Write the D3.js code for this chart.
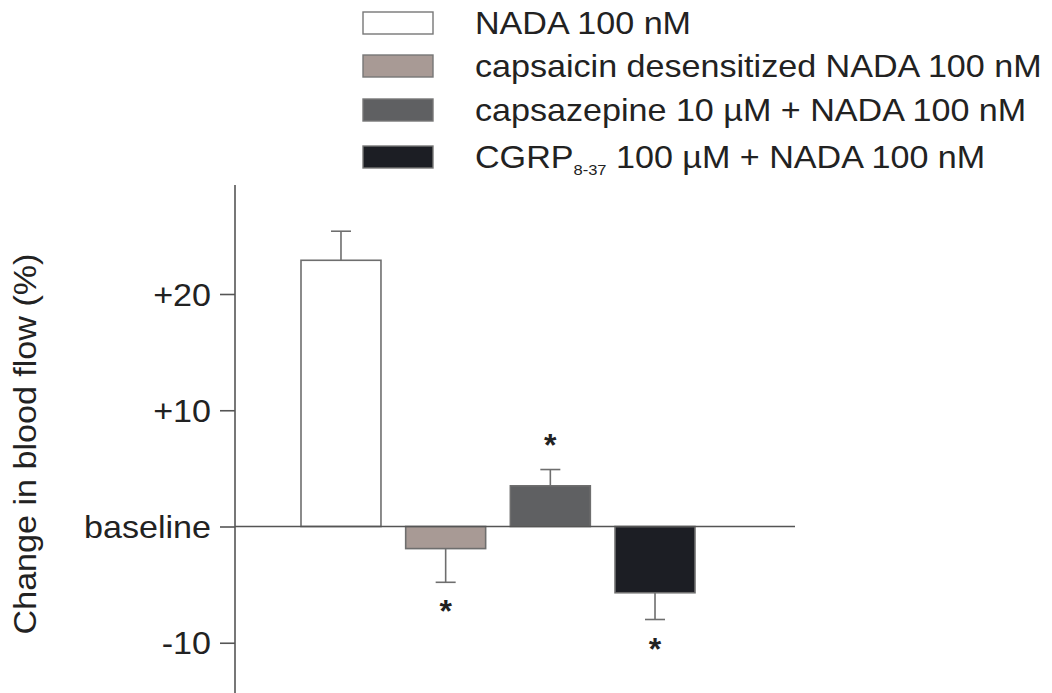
<!DOCTYPE html>
<meta charset="utf-8">
<html>

<head>
  <title>Change in blood flow</title>
  <script src="https://d3js.org/d3.v7.min.js"></script>
  <style>
    body { margin: 0; background: #fff; }
    text { font-family: "Liberation Sans", Arial, sans-serif; fill: #222; }
  </style>
</head>

<body>
  <div id="my_dataviz"></div>
</body>
<script type="text/javascript">

  // data
  var groups = ["NADA 100 nM", "capsaicin desensitized NADA 100 nM", "capsazepine 10 µM + NADA 100 nM", "CGRP 100 µM + NADA 100 nM"];
  var means = [22.9, -1.9, 3.5, -5.7];
  var errors = [2.5, 2.9, 1.4, 2.3];
  var significant = [false, true, true, true];
  var colors = ["#ffffff", "#a89a95", "#5f6062", "#1c1e24"];
  var tickValues = [20, 10, 0, -10];
  var tickLabels = ["+20", "+10", "baseline", "-10"];

  var W = 1052, H = 693;
  var stretch = 1.10; // the figure's lettering is a bit wider than Arial

  var svg = d3.select("#my_dataviz")
    .append("svg")
    .attr("width", W)
    .attr("height", H);

  var x = d3.scaleBand()
    .domain(groups)
    .range([301, 695])
    .paddingInner(0.236);

  var y = d3.scaleLinear()
    .domain([0, 20])
    .range([526.5, 294]);

  var axisX = 235;

  // y axis
  var yAxis = svg.append("g")
    .attr("transform", "translate(" + axisX + ",0)")
    .call(d3.axisLeft(y)
      .tickValues(tickValues)
      .tickSize(15)
      .tickPadding(9)
      .tickFormat(function (d, i) { return tickLabels[i]; }));
  yAxis.select(".domain").remove();
  yAxis.selectAll(".tick line")
    .attr("stroke", "#555")
    .attr("stroke-width", 1.6);
  yAxis.selectAll(".tick text")
    .attr("x", null)
    .attr("dy", null)
    .attr("transform", "translate(-24,11) scale(" + stretch + ",1)")
    .style("font-size", "31px")
    .style("font-family", "'Liberation Sans', Arial, sans-serif")
    .attr("fill", "#222");

  svg.append("line")
    .attr("x1", axisX).attr("x2", axisX)
    .attr("y1", 185).attr("y2", H)
    .attr("stroke", "#555")
    .attr("stroke-width", 1.6);

  // y label
  svg.append("text")
    .attr("transform", "translate(36," + 444 + ") rotate(-90) scale(" + stretch + ",1)")
    .attr("text-anchor", "middle")
    .style("font-size", "31px")
    .text("Change in blood flow (%)");

  // bars
  svg.selectAll("rect.bar")
    .data(means)
    .enter()
    .append("rect")
    .attr("class", "bar")
    .attr("x", function (d, i) { return x(groups[i]); })
    .attr("y", function (d) { return Math.min(y(d), y(0)); })
    .attr("width", x.bandwidth())
    .attr("height", function (d) { return Math.abs(y(d) - y(0)); })
    .attr("fill", function (d, i) { return colors[i]; })
    .attr("stroke", "#6e6e6e")
    .attr("stroke-width", 1.6);

  // baseline
  svg.append("line")
    .attr("x1", axisX).attr("x2", 795)
    .attr("y1", y(0)).attr("y2", y(0))
    .attr("stroke", "#555")
    .attr("stroke-width", 1.6);

  // one-sided error bars
  var errG = svg.append("g")
    .attr("stroke", "#6e6e6e")
    .attr("stroke-width", 1.6);
  means.forEach(function (m, i) {
    var cx = x(groups[i]) + x.bandwidth() / 2;
    var tip = m >= 0 ? m + errors[i] : m - errors[i];
    errG.append("line")
      .attr("x1", cx).attr("x2", cx)
      .attr("y1", y(m)).attr("y2", y(tip));
    errG.append("line")
      .attr("x1", cx - 10).attr("x2", cx + 10)
      .attr("y1", y(tip)).attr("y2", y(tip));

    if (significant[i]) {
      var cy = m >= 0 ? y(tip) - 32 : y(tip) + 22;
      svg.append("text")
        .attr("x", cx)
        .attr("y", cy + 18)
        .attr("text-anchor", "middle")
        .style("font-size", "32px")
        .style("font-weight", "bold")
        .text("*");
    }
  });

  // legend
  var legendY = [23, 66, 110, 157];
  var legend = svg.selectAll("g.legend")
    .data(groups)
    .enter()
    .append("g")
    .attr("class", "legend")
    .attr("transform", function (d, i) { return "translate(0," + legendY[i] + ")"; });

  legend.append("rect")
    .attr("x", 363)
    .attr("y", -11)
    .attr("width", 70)
    .attr("height", 22)
    .attr("fill", function (d, i) { return colors[i]; })
    .attr("stroke", "#777")
    .attr("stroke-width", 1.4);

  legend.append("text")
    .attr("transform", "translate(475,11) scale(" + stretch + ",1)")
    .style("font-size", "31px")
    .each(function (d, i) {
      var t = d3.select(this);
      if (i === 3) {
        t.append("tspan").text("CGRP");
        t.append("tspan").attr("dy", 7).style("font-size", "15px").text("8-37");
        t.append("tspan").attr("dy", -7).text(" 100 µM + NADA 100 nM");
      } else {
        t.text(d);
      }
    });

</script>

</html>
